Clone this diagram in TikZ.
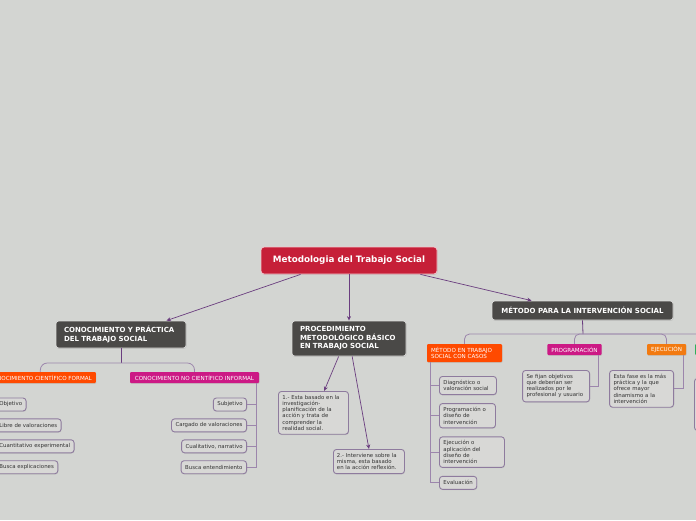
\documentclass[tikz,border=0pt]{standalone}
\usepackage{fontspec}
\setmainfont{DejaVu Sans}
\usetikzlibrary{positioning, arrows.meta, shadows}
\definecolor{mapBack}{HTML}{D3D5D2}
\definecolor{mapRed}{HTML}{C61F38}
\definecolor{mapDark}{HTML}{4A4947}
\definecolor{mapOrange}{HTML}{FF4A00}
\definecolor{mapAmber}{HTML}{F27A10}
\definecolor{mapMagenta}{HTML}{CC1985}
\definecolor{mapGreen}{HTML}{2FAE5B}
\definecolor{mapLeaf}{HTML}{D8D8D6}
\definecolor{mapEdge}{HTML}{8E7B9E}
\definecolor{mapPurple}{HTML}{6A3D7F}
\definecolor{mapLilac}{HTML}{9C86AC}

\begin{document}
\begin{tikzpicture}[
    x=1pt, y=-1pt,
    >={Stealth[length=4.5pt,width=4pt]},
    rootbox/.style={fill=mapRed, draw=white!75!mapRed, line width=0.8pt, rounded corners=3pt, text=white,
        font=\fontsize{8.8}{10}\selectfont\bfseries, minimum width=176pt, minimum height=27pt,
        drop shadow={shadow xshift=0.5pt, shadow yshift=-0.8pt, opacity=0.25}},
    topicbox/.style={fill=mapDark, draw=white!80!mapDark, line width=0.8pt, rounded corners=2.5pt, text=white,
        font=\fontsize{7}{8.5}\selectfont\bfseries, align=left, inner xsep=8pt, inner ysep=4pt,
        drop shadow={shadow xshift=0.5pt, shadow yshift=-0.8pt, opacity=0.25}},
    tagbox/.style={text=white, rounded corners=1pt, font=\fontsize{5.6}{6.6}\selectfont,
        inner xsep=4pt, inner ysep=1.5pt, minimum height=11pt,
        drop shadow={shadow xshift=0.5pt, shadow yshift=-0.8pt, opacity=0.2}},
    leafbox/.style={fill=mapLeaf, draw=mapEdge, line width=0.9pt, rounded corners=3pt, text=black!80,
        font=\fontsize{5.4}{6.2}\selectfont, align=left, inner xsep=4pt, inner ysep=3.8pt, minimum height=13pt,
        drop shadow={shadow xshift=0.5pt, shadow yshift=-0.8pt, opacity=0.2}},
    arrowline/.style={->, draw=mapPurple, line width=0.7pt},
    stem/.style={draw=mapPurple, line width=0.8pt},
    twig/.style={draw=mapLilac, line width=0.8pt}
]
    \useasboundingbox (0,0) rectangle (696,520);
    \fill[mapBack] (0,0) rectangle (696,520);
    \clip (0,0) rectangle (696,520);

    \node[rootbox] (root) at (349,260.5) {Metodologia del Trabajo Social};

    \node[topicbox, text width=114pt, minimum height=27pt] (ciencia) at (121,334.5) {CONOCIMIENTO Y PRÁCTICA\\DEL TRABAJO SOCIAL};
    \node[topicbox, text width=98pt, minimum height=35pt] (proc) at (349,338.5) {PROCEDIMIENTO\\METODOLÓGICO BÁSICO\\EN TRABAJO SOCIAL};
    \node[topicbox, align=center, minimum width=181pt, minimum height=19pt] (metodo) at (582.5,310.5) {MÉTODO PARA LA INTERVENCIÓN SOCIAL};

    \node[tagbox, fill=mapOrange, anchor=east] (formal) at (96,377.5) {CONOCIMIENTO CIENTÍFICO FORMAL};
    \node[tagbox, fill=mapMagenta, minimum width=129pt] (informal) at (194.5,377.5) {CONOCIMIENTO NO CIENTÍFICO INFORMAL};
    \node[tagbox, fill=mapOrange, text width=67pt, align=left, minimum height=18pt] (casos) at (464.5,353) {MÉTODO EN TRABAJO\\SOCIAL CON CASOS};
    \node[tagbox, fill=mapMagenta, minimum width=53pt] (progr) at (574.5,349.5) {PROGRAMACIÓN};
    \node[tagbox, fill=mapAmber, minimum width=39pt] (ejec) at (666.5,349.5) {EJECUCIÓN};
    \node[tagbox, fill=mapGreen, minimum width=40pt, anchor=west] (verde) at (695,349.5) {};

    \node[leafbox, anchor=west] (obj) at (-5,404.5) {Objetivo};
    \node[leafbox, below=7pt of obj.south west, anchor=north west] (libre) {Libre de valoraciones};
    \node[leafbox, below=7pt of libre.south west, anchor=north west] (cuanti) {Cuantitativo experimental};
    \node[leafbox, below=7pt of cuanti.south west, anchor=north west] (explic) {Busca explicaciones};

    \node[leafbox, anchor=east] (subj) at (247,404.5) {Subjetivo};
    \node[leafbox, below=7pt of subj.south east, anchor=north east] (cargado) {Cargado de valoraciones};
    \node[leafbox, below=7pt of cargado.south east, anchor=north east] (cuali) {Cualitativo, narrativo};
    \node[leafbox, below=7pt of cuali.south east, anchor=north east] (entend) {Busca entendimiento};

    \node[leafbox, text width=62pt, anchor=north west] (paso1) at (278,391) {1.- Esta basado en la\\investigación-\\planificación de la\\acción y trata de\\comprender la\\realidad social.};
    \node[leafbox, text width=64pt, inner xsep=3.5pt, anchor=north west] (paso2) at (333,449) {2.- Interviene sobre la\\misma, esta basado\\en la acción reflexión.};

    \node[leafbox, text width=49pt, anchor=north west] (diag) at (439,376) {Diagnóstico o\\valoración social};
    \node[leafbox, text width=48pt, below=8pt of diag.south west, anchor=north west] (disenio) {Programación o\\diseño de\\intervención};
    \node[leafbox, text width=57pt, below=8pt of disenio.south west, anchor=north west] (aplic) {Ejecución o\\aplicación del\\diseño de\\intervención};
    \node[leafbox, below=8pt of aplic.south west, anchor=north west] (evalua) {Evaluación};

    \node[leafbox, text width=59pt, anchor=north east] (fijan) at (590,370) {Se fijan objetivos\\que deberían ser\\realizados por le\\profesional y usuario};
    \node[leafbox, text width=56pt, anchor=north east] (fase) at (674,370) {Esta fase es la más\\práctica y la que\\ofrece mayor\\dinamismo a la\\intervención};
    \node[leafbox, anchor=north west, minimum width=40pt, minimum height=52pt] (oculta) at (694,378) {};

    \draw[arrowline] (root.196) -- (ciencia.17);
    \draw[arrowline] (root.south) -- (proc.north);
    \draw[arrowline] (root.349) -- (metodo.169);
    \draw[arrowline] (proc.240) -- (paso1.64);
    \draw[arrowline] (proc.280) -- (paso2.north);

    \coordinate (cjoin) at (121,363);
    \draw[stem] (ciencia.south) -- (cjoin);
    \draw[twig, rounded corners=7pt] (formal.north) |- (cjoin) -| (informal.north);

    \coordinate (mjoin) at (583,334);
    \draw[stem] (metodo.south) -- (mjoin);
    \draw[twig, rounded corners=5pt] (casos.north) |- (mjoin) -| (verde.north);
    \draw[twig, rounded corners=5pt] (progr.north) |- (mjoin);
    \draw[twig, rounded corners=5pt] (ejec.north) |- (mjoin);

    \foreach \leaf in {obj,libre,cuanti,explic}
        \draw[twig] ([xshift=4pt]formal.south west) |- (\leaf.west);
    \foreach \leaf in {subj,cargado,cuali,entend}
        \draw[twig] ([xshift=-3pt]informal.south east) |- (\leaf.east);
    \foreach \leaf in {diag,disenio,aplic,evalua}
        \draw[twig] ([xshift=4pt]casos.south west) |- (\leaf.west);
    \draw[twig] ([xshift=-3pt]progr.south east) |- (fijan.east);
    \draw[twig] ([xshift=-3pt]ejec.south east) |- (fase.east);
\end{tikzpicture}
\end{document}
